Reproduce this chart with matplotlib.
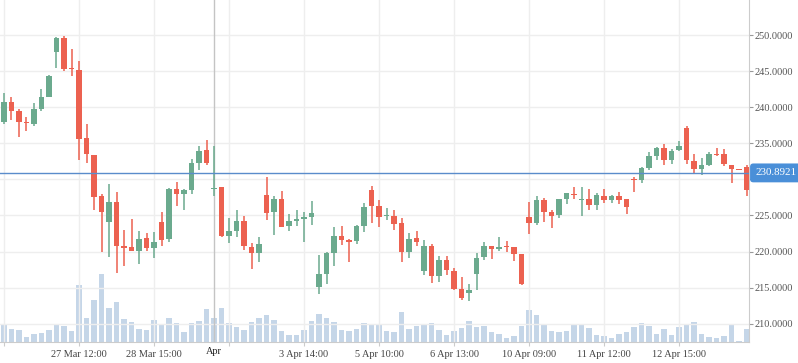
import matplotlib
matplotlib.use("Agg")
import matplotlib.pyplot as plt
import matplotlib.transforms as mtransforms
import numpy as np

opens = [237.95, 240.7, 239.47, 237.9, 237.7, 239.8, 241.45, 247.65, 249.6, 245.35,
         245.15, 235.7, 233.4, 227.7, 224.15, 226.85, 220.75, 220.6, 220.1, 221.85,
         220.5, 224.1, 221.8, 228.65, 227.9, 228.55, 232.3, 234.05, 228.7, 228.95,
         222.2, 222.9, 224.25, 220.6, 219.85, 227.85, 225.5, 227.25, 223.6, 224.25,
         224.55, 224.85, 215.1, 216.95, 219.85, 222.15, 221.6, 221.5, 223.6, 228.5,
         226.3, 224.95, 224.9, 223.95, 219.95, 221.85, 217.35, 220.75, 216.65, 218.8,
         217.3, 214.8, 214.25, 216.9, 219.3, 220.75, 220.4, 220.8, 220.6, 219.65,
         224.8, 224.0, 227.15, 225.45, 225.1, 227.3, 228.0, 227.2, 227.25, 226.5,
         227.7, 227.2, 227.7, 227.25, 229.95, 229.85, 231.6, 233.25, 234.35, 232.7,
         234.05, 237.1, 232.55, 231.45, 232.0, 233.55, 233.5, 232.0, 231.45, 231.7]
highs = [242.0, 241.4, 239.75, 238.6, 240.6, 242.5, 244.45, 249.75, 249.85, 248.05,
         246.4, 237.65, 233.4, 227.9, 229.35, 228.25, 222.95, 224.5, 222.85, 222.55,
         222.7, 225.45, 228.8, 229.6, 228.65, 232.8, 234.6, 235.45, 234.6, 228.95,
         224.6, 225.75, 224.9, 221.15, 222.0, 230.3, 227.7, 228.4, 225.2, 225.75,
         225.45, 227.0, 219.5, 219.95, 223.4, 223.55, 221.75, 223.7, 226.7, 229.05,
         227.15, 226.0, 225.75, 224.65, 222.55, 222.85, 221.6, 221.05, 219.4, 219.4,
         217.7, 216.45, 215.5, 219.8, 221.3, 220.75, 222.0, 221.45, 220.6, 219.65,
         226.85, 227.7, 227.4, 225.75, 227.25, 228.1, 228.95, 228.95, 228.65, 228.1,
         228.65, 227.85, 228.25, 227.25, 230.3, 231.7, 233.8, 234.5, 234.9, 234.2,
         235.3, 237.4, 233.5, 232.95, 233.8, 234.35, 234.2, 232.0, 231.45, 232.0]
lows = [237.7, 238.2, 235.85, 236.7, 237.45, 239.5, 241.4, 245.4, 245.05, 244.35,
        232.7, 232.3, 225.75, 219.95, 219.3, 217.05, 218.0, 220.1, 218.3, 220.1,
        219.15, 220.8, 221.35, 226.35, 225.8, 227.9, 231.35, 232.05, 227.75, 221.95,
        221.2, 221.95, 220.25, 217.6, 218.6, 224.3, 222.35, 223.45, 222.9, 223.6,
        221.35, 223.7, 214.15, 215.55, 218.05, 220.95, 218.6, 221.1, 222.75, 224.0,
        223.45, 224.4, 223.0, 218.6, 219.15, 220.8, 216.8, 215.7, 215.8, 216.8,
        214.65, 213.35, 213.2, 214.7, 218.85, 219.0, 220.1, 219.95, 218.75, 215.3,
        222.45, 223.7, 224.15, 223.3, 224.7, 226.6, 227.3, 224.95, 225.8, 225.8,
        226.75, 226.75, 226.6, 225.25, 228.3, 229.55, 231.3, 232.7, 232.0, 232.1,
        233.9, 232.15, 230.75, 230.6, 231.85, 233.2, 231.85, 229.5, 231.35, 227.7]
closes = [240.7, 239.5, 237.95, 237.75, 239.75, 241.4, 244.3, 249.6, 245.35, 245.25,
          235.65, 233.55, 227.6, 225.5, 226.85, 220.8, 220.55, 220.1, 221.7, 220.5,
          221.3, 221.65, 228.65, 227.9, 228.5, 232.25, 233.9, 232.3, 228.8, 222.2,
          222.85, 224.25, 220.8, 219.85, 221.05, 225.4, 227.25, 223.45, 224.25, 224.55,
          224.85, 225.35, 216.9, 219.8, 222.15, 221.65, 221.35, 223.55, 226.15, 226.35,
          224.85, 225.05, 223.85, 219.95, 221.7, 221.35, 220.75, 216.65, 218.8, 217.5,
          214.8, 213.6, 214.6, 219.1, 220.8, 220.4, 220.6, 220.65, 219.7, 215.55,
          224.0, 227.15, 225.5, 224.95, 227.25, 228.1, 227.85, 227.3, 226.5, 227.85,
          227.2, 227.65, 227.2, 226.2, 229.85, 231.6, 233.25, 234.35, 232.7, 233.95,
          234.6, 232.7, 231.45, 232.0, 233.5, 233.4, 232.1, 231.45, 231.35, 228.5]
volumes = [52, 40, 37, 16, 25, 28, 37, 55, 49, 34, 172, 73, 127, 205, 103, 121, 70,
           61, 40, 37, 67, 55, 73, 58, 31, 58, 64, 100, 73, 103, 58, 46, 37,
           61, 73, 82, 67, 34, 22, 22, 37, 64, 85, 73, 61, 37, 34, 40, 58,
           52, 52, 34, 31, 91, 40, 49, 52, 58, 37, 22, 34, 43, 64, 46, 49,
           31, 25, 13, 19, 49, 97, 82, 52, 34, 31, 34, 55, 52, 43, 22, 19, 13,
           25, 31, 46, 58, 49, 25, 40, 22, 46, 55, 61, 25, 16, 13, 19, 52, 4, 40]

tick_idx = [0, 10, 20, 30, 40, 50, 60, 70, 80, 90]
tick_labels = ["", "27 Mar 12:00", "28 Mar 15:00", "", "3 Apr 14:00", "5 Apr 10:00",
               "6 Apr 13:00", "10 Apr 09:00", "11 Apr 12:00", "12 Apr 15:00"]
price_ticks = [210, 215, 220, 225, 230, 235, 240, 245, 250]
cross_idx = 28
cross_label = "Apr"
cross_price = 230.8921

GREEN = "#6BAA8E"
RED = "#EC6150"
VOL = "#C5D6E8"
GRID = "#EEEEEE"
FONT = "Liberation Serif"
FS = 7.4

W, H = 798, 363
fig = plt.figure(figsize=(W / 100, H / 100), dpi=100)
fig.patch.set_facecolor("white")
rect = [0, 20.7 / H, 749 / W, 342.3 / H]

ax_v = fig.add_axes(rect)
ax = fig.add_axes(rect)
ax.patch.set_visible(False)

x = np.arange(len(opens))
xlim = (-0.533, 99.33)

# volume
ax_v.bar(x, volumes, width=0.68, color=VOL, zorder=2)
ax_v.set_xlim(*xlim)
ax_v.set_ylim(0, 1027)
ax_v.axis("off")

# grid
for p in price_ticks:
    ax.axhline(p, color=GRID, lw=1, zorder=0)
for t in tick_idx:
    ax.axvline(t, color=GRID, lw=1, zorder=0)

o = np.array(opens); c = np.array(closes); h = np.array(highs); l = np.array(lows)
up = c >= o
colors = np.where(up, GREEN, RED)
ax.vlines(x, l, h, colors=colors, lw=1.1, zorder=3)
bottom = np.minimum(o, c)
height = np.maximum(np.abs(c - o), 0.13)
ax.bar(x, height, bottom=bottom, width=0.68, color=colors, zorder=4, linewidth=0)

# crosshair
ax.axvline(cross_idx, color="#C4C4C4", lw=1, zorder=2)
ax.axhline(cross_price, color="#5A8CCB", lw=1, zorder=5)

ax.set_xlim(*xlim)
ax.set_ylim(207.42, 254.85)

for s in ["left", "top"]:
    ax.spines[s].set_visible(False)
ax.spines["right"].set_color("#CCCCCC")
ax.spines["bottom"].set_color("#CCCCCC")

ax.yaxis.tick_right()
ax.set_yticks(price_ticks)
# the 230 label sits under the crosshair price box in the reference
ax.set_yticklabels(["" if abs(p - cross_price) < 2 else f"{p:.4f}" for p in price_ticks],
                   fontfamily=FONT, fontsize=FS, color="#555555")
ax.tick_params(axis="y", length=3, color="#999999", pad=1)

ax.set_xticks(tick_idx)
ax.set_xticklabels(tick_labels, fontfamily=FONT, fontsize=FS, color="#444444")
ax.tick_params(axis="x", length=3, color="#CCCCCC", pad=2.5)

# crosshair x label
ax.text(cross_idx, -0.013, cross_label, transform=mtransforms.blended_transform_factory(ax.transData, ax.transAxes),
        ha="center", va="top", fontfamily=FONT, fontsize=FS, color="#222222")

# price label box
ax.text(755 / 749, cross_price, f"{cross_price:.4f}",
        transform=mtransforms.blended_transform_factory(ax.transAxes, ax.transData),
        ha="left", va="center", fontfamily=FONT, fontsize=7.9, color="white",
        bbox=dict(boxstyle="round,pad=0.45,rounding_size=0.3", facecolor="#4A8FD8", edgecolor="none"),
        zorder=10, clip_on=False)

fig.savefig("out.png", dpi=100, facecolor="white")
